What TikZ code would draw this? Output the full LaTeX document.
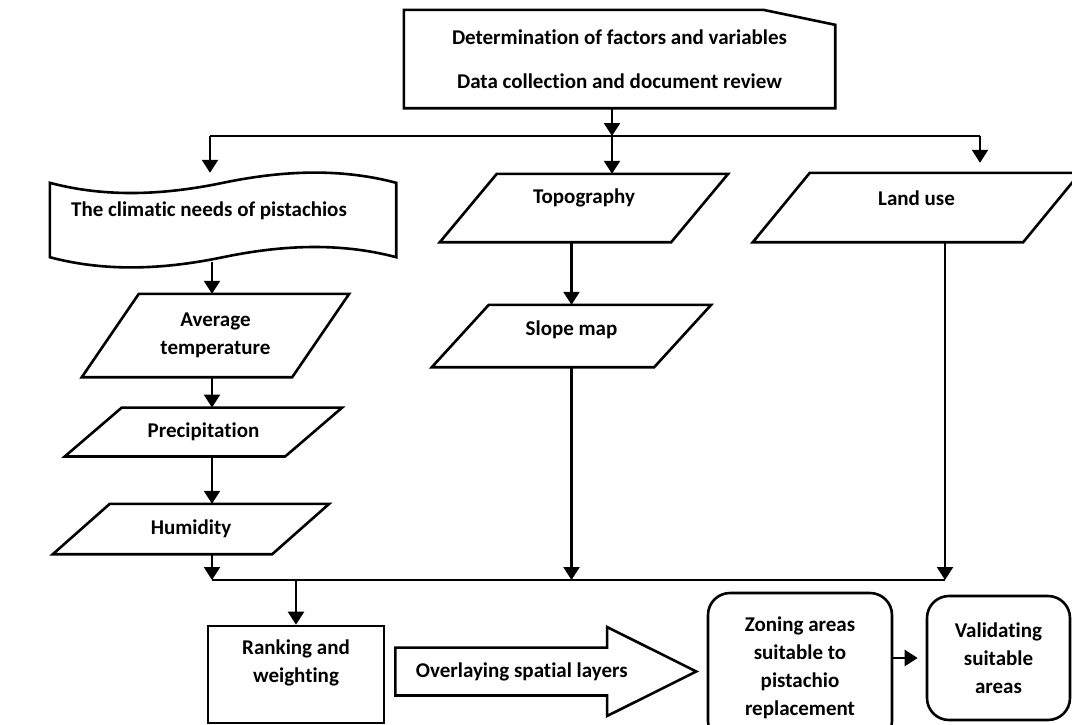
\documentclass[tikz,border=0pt]{standalone}
\usepackage{fontspec}
\setmainfont{Carlito}[Ligatures=NoCommon]
\usetikzlibrary{arrows.meta,shapes.arrows}

\begin{document}
\begin{tikzpicture}[
  x=1pt, y=-1pt,
  every node/.style={font=\bfseries\fontsize{21}{28}\selectfont,align=center,inner sep=0pt},
  outline/.style={line width=2.6pt,line join=miter},
  box/.style={draw,line width=2.6pt},
  rbox/.style={draw,line width=2.6pt,rounded corners=22pt},
  wire/.style={line width=2.2pt},
  arr/.style={line width=2.2pt,-{Triangle[length=13pt,width=16pt]}}
]
\useasboundingbox (0,0) rectangle (1072,724);
% top box with cut corner
\node (det) at (619.5,59) [minimum width=431pt,minimum height=98pt]
  {Determination of factors and variables\\[16pt]Data collection and document review};
\draw[outline] (det.south west) -- (det.north west) -- ([xshift=-72pt]det.north east)
  -- ([yshift=-15pt]det.north east) -- (det.south east) -- cycle;
% wavy document
\node (need) at (223,220) [minimum width=346pt,minimum height=74pt,text depth=21pt]
  {The climatic needs of pistachios\hspace*{28pt}};
\draw[outline] (need.north west) .. controls +(60,16) and +(-53,11) .. (need.north)
  .. controls +(53,-11) and +(-60,-16) .. (need.north east) -- (need.south east)
  .. controls +(-60,-16) and +(53,-11) .. (need.south)
  .. controls +(-53,11) and +(60,16) .. (need.south west) -- cycle;
% parallelograms
\node (avg) at (215.5,335.5) [minimum width=267pt,minimum height=83pt] {Average\\temperature};
\node (prec) at (203.5,432) [minimum width=277pt,minimum height=48.5pt] {Precipitation};
\node (hum) at (191,529) [minimum width=276pt,minimum height=50pt] {Humidity};
\node (topo) at (584,208) [minimum width=288pt,minimum height=68pt,text depth=23pt] {Topography};
\node (slope) at (571.5,336) [minimum width=279pt,minimum height=62pt,text depth=16pt] {Slope map};
\node (land) at (916.5,207.5) [minimum width=327pt,minimum height=69pt,text depth=18pt] {Land use};
\foreach \n in {avg,prec,hum,topo,slope,land}
  \draw[outline] ([xshift=57pt]\n.north west) -- (\n.north east)
    -- ([xshift=-57pt]\n.south east) -- (\n.south west) -- cycle;
% bottom row
\node[box,minimum width=176pt,minimum height=97pt,text depth=26pt] (rank) at (296,674.5) {Ranking and\\weighting};
\node[single arrow,draw,line width=2.6pt,anchor=tail,minimum height=301pt,
  single arrow head extend=20.5pt,single arrow tip angle=53,inner ysep=13.5pt,inner xsep=10pt]
  (overlay) at (394,671.5) {Overlaying spatial layers};
\node[rbox,minimum width=184pt,minimum height=150pt] (zone) at (800,668)
  {Zoning areas\\suitable to\\pistachio\\replacement};
\node[rbox,minimum width=143pt,minimum height=124pt] (valid) at (998.5,658)
  {Validating\\suitable\\areas};
% bus lines
\coordinate (topl) at (210,136);
\coordinate (topm) at (612,136);
\coordinate (topr) at (980,136);
\coordinate (botl) at (212,580);
\coordinate (botr) at (945,580);
\draw[arr] (det.south -| topm) -- (topm);
\draw[wire] (topl) -- (topr);
\draw[arr,shorten >=10pt] (topl) -- (topl |- need.north);
\draw[arr] (topm) -- (topm |- topo.north);
\draw[arr,shorten >=10pt] (topr) -- (topr |- land.north);
% left column
\draw[arr] ([yshift=-5pt]need.south -| botl) -- (botl |- avg.north);
\draw[arr] (botl |- avg.south) -- (botl |- prec.north);
\draw[arr] (botl |- prec.south) -- (botl |- hum.north);
\draw[arr] (botl |- hum.south) -- (botl);
% middle and right columns
\draw[arr] (topo.south -| slope.north) -- (slope.north);
\draw[arr] (slope.south) -- (slope.south |- botl);
\draw[arr] (botr |- land.south) -- (botr);
\draw[wire] (botl) -- (botr);
\draw[arr] (rank.north |- botl) -- (rank.north);
\draw[arr,shorten >=8pt] (zone.east |- valid.west) -- (valid.west);
\end{tikzpicture}
\end{document}
